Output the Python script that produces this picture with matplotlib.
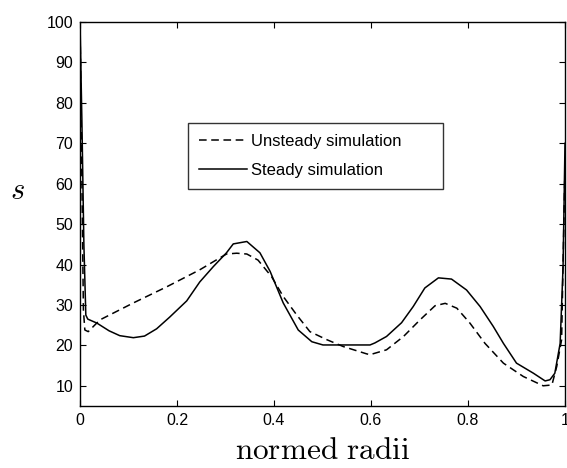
import matplotlib
matplotlib.use("Agg")
import matplotlib.pyplot as plt

plt.rcParams['font.family'] = ['Liberation Sans', 'DejaVu Sans']
plt.rcParams['mathtext.fontset'] = 'cm'

# Steady simulation profile
steady_r = [0, 0.004, 0.008, 0.012, 0.016, 0.035, 0.06, 0.082, 0.11, 0.133, 0.158,
            0.185, 0.22, 0.247, 0.275, 0.302, 0.316, 0.344, 0.371, 0.392, 0.419,
            0.45, 0.478, 0.501, 0.55, 0.598, 0.608, 0.632, 0.663, 0.687, 0.711,
            0.739, 0.766, 0.797, 0.825, 0.852, 0.873, 0.9, 0.935, 0.959, 0.969,
            0.979, 0.99, 0.996, 1.0]
steady_s = [100, 75, 45, 27.5, 26.5, 25.5, 23.6, 22.4, 21.9, 22.3, 24.1,
            27, 31, 35.7, 39.5, 42.9, 45.1, 45.7, 42.9, 38.3, 30.5,
            23.8, 20.9, 20.1, 20.1, 20.1, 20.6, 22.2, 25.6, 29.6, 34.2,
            36.7, 36.4, 33.7, 29.6, 24.7, 20.5, 15.6, 13.1, 11.2, 11.5,
            13.1, 20.5, 39.5, 70]

# Unsteady simulation profile
unsteady_r = [0, 0.004, 0.007, 0.01, 0.017, 0.041, 0.11, 0.179, 0.247, 0.275,
              0.302, 0.323, 0.344, 0.367, 0.395, 0.419, 0.447, 0.474, 0.509,
              0.543, 0.591, 0.598, 0.632, 0.667, 0.701, 0.732, 0.753, 0.777,
              0.804, 0.835, 0.873, 0.914, 0.955, 0.973, 0.983, 0.993, 1.0]
unsteady_s = [100, 60, 28.8, 23.8, 23.4, 26.3, 30.5, 34.5, 38.7, 40.7,
              42.6, 42.8, 42.6, 41.1, 37.0, 32.1, 27.5, 23.4, 21.4,
              19.7, 17.9, 17.7, 18.9, 22.2, 26.3, 29.8, 30.4, 29.2,
              25.5, 20.5, 15.6, 12.3, 10.0, 10.2, 14.8, 21.4, 65]

x_ticks = [0, 0.2, 0.4, 0.6, 0.8, 1]
x_ticklabels = ['0', '0.2', '0.4', '0.6', '0.8', '1']
y_ticks = [10, 20, 30, 40, 50, 60, 70, 80, 90, 100]

fig = plt.figure(figsize=(5.67, 4.68), dpi=100)
ax = fig.add_axes([80 / 567, 1 - 406 / 468, 485 / 567, 384 / 468])

ax.plot(unsteady_r, unsteady_s, color='black', lw=1.1, linestyle=(0, (5, 3)),
        label='Unsteady simulation')
ax.plot(steady_r, steady_s, color='black', lw=1.1, label='Steady simulation')

ax.set_xlim(0, 1)
ax.set_ylim(5, 100)
ax.set_xticks(x_ticks)
ax.set_xticklabels(x_ticklabels)
ax.set_yticks(y_ticks)
ax.tick_params(direction='in', top=True, right=True, labelsize=11.5,
               length=4, width=0.8, pad=5)
for sp in ax.spines.values():
    sp.set_linewidth(1.0)

ax.set_xlabel(r'$\mathrm{normed\ radii}$', fontsize=22.5, labelpad=6)
ax.set_ylabel(r'$s$', fontsize=22, rotation=0, labelpad=0)
ax.yaxis.set_label_coords(-0.13, 0.52)

leg = ax.legend(loc='upper left', bbox_to_anchor=(0.223, 0.555, 0.525, 0.182),
                mode='expand', fontsize=12, frameon=True, fancybox=False,
                edgecolor='black', handlelength=2.9, handletextpad=0.2,
                borderpad=0.65, labelspacing=0.85, borderaxespad=0)
leg.get_frame().set_linewidth(1.0)

fig.savefig('out.png', dpi=100)
